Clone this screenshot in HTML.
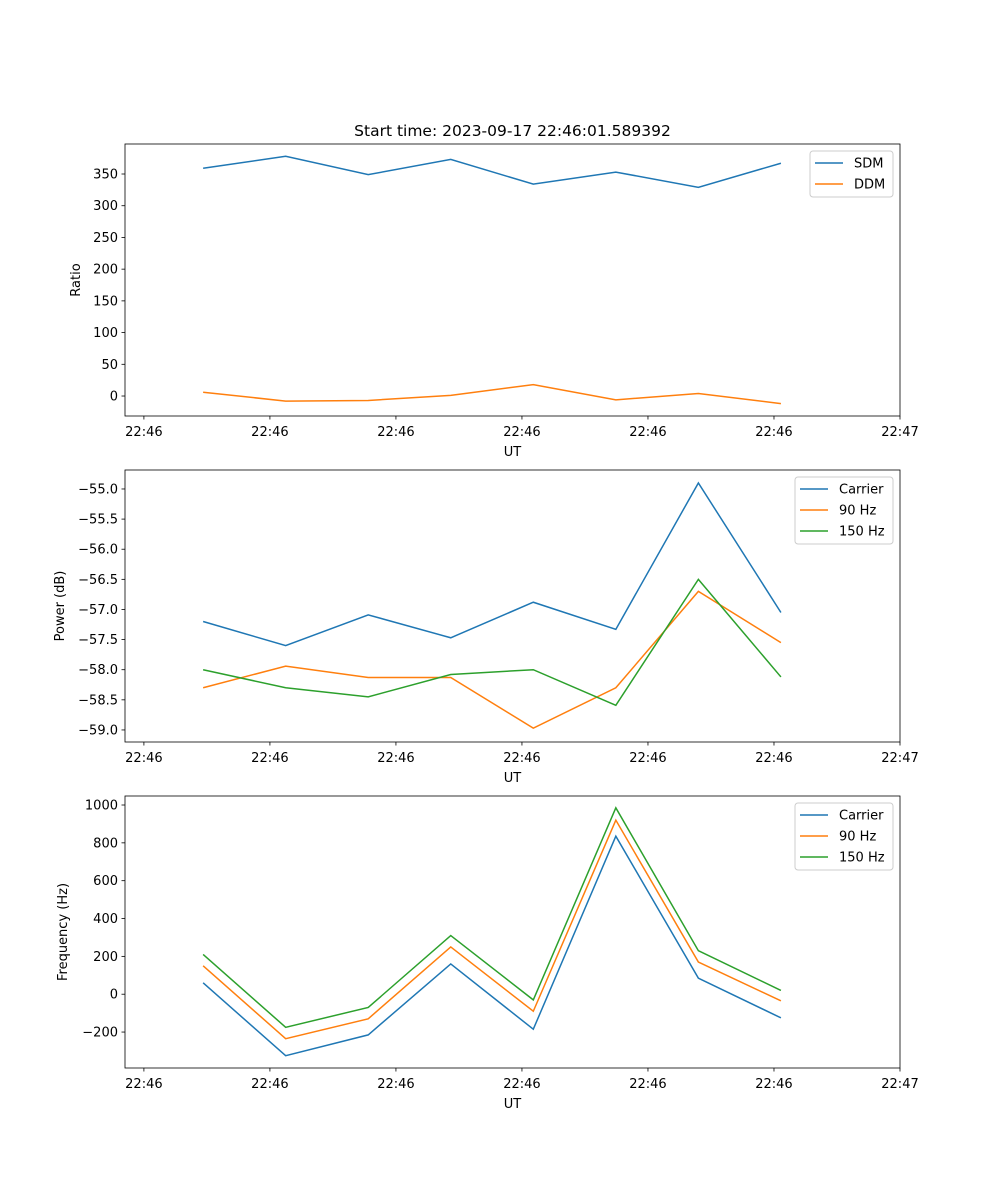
<!DOCTYPE html>
<html><head><meta charset="utf-8"><style>body{margin:0;background:#fff}svg{display:block;font-family:"DejaVu Sans","Liberation Sans",sans-serif}</style></head>
<body>
<svg id="fig" width="1000" height="1200" viewBox="0 0 1000 1200"></svg>
<script>
const times = [4.7, 11.25, 17.8, 24.35, 30.9, 37.45, 44.0, 50.55];
const xTickVals = [0, 10, 20, 30, 40, 50, 60];
const xTickLabels = ["22:46","22:46","22:46","22:46","22:46","22:46","22:47"];
const sdm = [359, 378, 349, 373, 334, 353, 329, 367];
const ddm = [6, -8, -7, 1, 18, -6, 4, -12];
const ratioTicks = [0, 50, 100, 150, 200, 250, 300, 350];
const powCarrier = [-57.2, -57.6, -57.09, -57.47, -56.88, -57.33, -54.9, -57.05];
const pow90 = [-58.3, -57.94, -58.13, -58.13, -58.97, -58.3, -56.7, -57.55];
const pow150 = [-58.0, -58.3, -58.45, -58.08, -58.0, -58.59, -56.5, -58.12];
const powTicks = [-59.0, -58.5, -58.0, -57.5, -57.0, -56.5, -56.0, -55.5, -55.0];
const freqCarrier = [60, -325, -215, 160, -185, 835, 85, -125];
const freq90 = [150, -235, -130, 250, -90, 920, 170, -35];
const freq150 = [210, -175, -70, 310, -30, 985, 230, 20];
const freqTicks = [-200, 0, 200, 400, 600, 800, 1000];

const NS = "http://www.w3.org/2000/svg";
const svg = document.getElementById('fig');
function mk(tag, attrs, parent, text) {
  const e = document.createElementNS(NS, tag);
  for (const k in attrs) e.setAttribute(k, attrs[k]);
  if (text !== undefined) e.textContent = text;
  (parent || svg).appendChild(e);
  return e;
}
const L = 125, R = 900, xMin = -1.5, xMax = 60;
const xs = v => L + (v - xMin) / (xMax - xMin) * (R - L);

function panel(name, top, bot, yMin, yMax, yTicks, yFmt, ylabel, series, legend) {
  const g = mk('g', {});
  
  
  const ys = v => bot - (v - yMin) / (yMax - yMin) * (bot - top);
  yTicks.forEach(t => {
    const y = ys(t);
    mk('line', {x1: L - 3.5, x2: L, y1: y, y2: y, stroke: '#000', 'stroke-width': 0.8}, g);
    const tx = mk('text', {x: L - 7, y: y + 4.5, 'font-size': 13, 'text-anchor': 'end'}, g, yFmt(t));
    
    
  });
  xTickVals.forEach((t, i) => {
    const x = xs(t);
    mk('line', {x1: x, x2: x, y1: bot, y2: bot + 3.5, stroke: '#000', 'stroke-width': 0.8}, g);
    const tx = mk('text', {x: x, y: bot + 20, 'font-size': 13, 'text-anchor': 'middle'}, g, xTickLabels[i]);
    
    
  });
  series.forEach(s => {
    const p = mk('polyline', {points: s.data.map((v, i) => xs(times[i]) + ',' + ys(v)).join(' '), fill: 'none', stroke: s.color, 'stroke-width': 1.5}, g);
    
    
  });
  mk('rect', {x: L, y: top, width: R - L, height: bot - top, fill: 'none', stroke: '#000', 'stroke-width': 0.8}, g);
  const xl = mk('text', {x: (L + R) / 2, y: bot + 40, 'font-size': 13, 'text-anchor': 'middle'}, g, 'UT');
  
  
  const cy = (top + bot) / 2;
  const yl = mk('text', {x: 0, y: 0, 'font-size': 13, 'text-anchor': 'middle', transform: `translate(${legend.ylx},${cy}) rotate(-90)`}, g, ylabel);
  
  
  const lg = mk('g', {}, g);
  
  
  mk('rect', {x: legend.x, y: top + 7, width: R - 7 - legend.x, height: 4 + series.length * 21, rx: 3, fill: '#fff', stroke: '#ccc', 'stroke-width': 1}, lg);
  series.forEach((s, i) => {
    const y = top + 19 + i * 21;
    mk('line', {x1: legend.x + 5, x2: legend.x + 33, y1: y, y2: y, stroke: s.color, 'stroke-width': 1.5}, lg);
    const t = mk('text', {x: legend.x + 44, y: y + 4.5, 'font-size': 13}, lg, s.label);
    
    
  });
}
const title = mk('text', {x: 512.5, y: 136, 'font-size': 15.5, 'text-anchor': 'middle'}, svg, 'Start time: 2023-09-17 22:46:01.589392');


const B = '#1f77b4', O = '#ff7f0e', G = '#2ca02c';
panel('ratio-panel', 144, 416, -31.5, 397.3, ratioTicks, t => String(t), 'Ratio',
  [{id: 'sdm-line', data: sdm, color: B, label: 'SDM'}, {id: 'ddm-line', data: ddm, color: O, label: 'DDM'}], {x: 810, ylx: 80});
panel('power-panel', 470, 742, -59.2, -54.685, powTicks, t => '\u2212' + Math.abs(t).toFixed(1), 'Power (dB)',
  [{id: 'power-carrier-line', data: powCarrier, color: B, label: 'Carrier'}, {id: 'power-90hz-line', data: pow90, color: O, label: '90 Hz'}, {id: 'power-150hz-line', data: pow150, color: G, label: '150 Hz'}], {x: 795, ylx: 64});
panel('frequency-panel', 796, 1068, -390, 1047.6, freqTicks, t => (t < 0 ? '\u2212' : '') + Math.abs(t), 'Frequency (Hz)',
  [{id: 'freq-carrier-line', data: freqCarrier, color: B, label: 'Carrier'}, {id: 'freq-90hz-line', data: freq90, color: O, label: '90 Hz'}, {id: 'freq-150hz-line', data: freq150, color: G, label: '150 Hz'}], {x: 795, ylx: 67});
</script>
</body></html>
